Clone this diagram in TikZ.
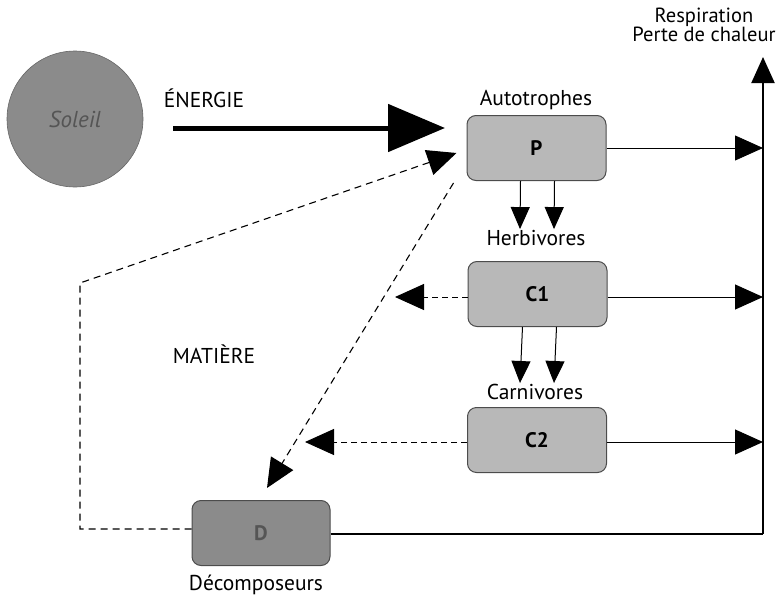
\documentclass[tikz,border=0pt]{standalone}
\usepackage{fontspec}
\setmainfont{PT Sans}
\usetikzlibrary{arrows.meta}
\definecolor{boxgray}{HTML}{B8B8B8}
\definecolor{darkgray}{HTML}{8B8B8B}
\definecolor{inkgray}{HTML}{555555}
\begin{document}
\begin{tikzpicture}[x=1pt,y=-1pt,
  every node/.style={font=\fontsize{21.5}{22}\selectfont},
  level/.style={draw=black!70,line width=1pt,rounded corners=9pt,fill=boxgray,
    minimum width=139pt,minimum height=65pt,inner sep=0pt,font=\fontsize{21}{22}\selectfont\bfseries},
  tag/.style={inner sep=1pt},
  flow/.style={line width=1pt,-{Triangle[length=28pt,width=25pt]}},
  feed/.style={line width=1pt,-{Triangle[length=22pt,width=19pt]}},
  back/.style={line width=1pt,dash pattern=on 6pt off 4pt,-{Triangle[length=29pt,width=26pt]}},
  recycle/.style={line width=1.1pt,dash pattern=on 7pt off 5pt,-{Triangle[length=29pt,width=26pt]}}]
\useasboundingbox (0,0) rectangle (782,597);

% source of energy
\node[circle,draw=black!60,line width=0.6pt,fill=darkgray,minimum size=136pt,inner sep=0pt,
  font=\fontsize{23}{24}\selectfont\itshape,text=inkgray] (sun) at (75,119) {Soleil};
\node[tag] (energy) at (204,98) {ÉNERGIE};
\node[tag] (matter) at (214,354) {MATIÈRE};

% trophic levels
\node[level] (P)  at (536.5,148) {P};
\node[level] (C1) at (537.5,294) {C1};
\node[level] (C2) at (537,440) {C2};
\node[level,fill=darkgray,text=inkgray,minimum width=138pt] (D) at (261,533) {D};

\node[tag] (autot) at (536,100) {Autotrophes};
\node[tag] (herb)  at (536,238) {Herbivores};
\node[tag] (carn)  at (535,392) {Carnivores};
\node[tag] (decomp) at (256,585) {Décomposeurs};
\node[tag,align=center,font=\fontsize{20.5}{19}\selectfont] (resp) at (704,25) {Respiration\\Perte de chaleur};

% energy input
\coordinate (e0) at (173,128);
\coordinate (e1) at (445,128);
\draw[line width=5pt,-{Triangle[length=57pt,width=47pt]}] (e0) -- (e1);

% respiration collector
\coordinate (rbot) at (763,534);
\coordinate (rtop) at (763,57);
\draw[line width=1.8pt] (D.east |- rbot) -- (rbot);
\draw[line width=2pt,-{Triangle[length=26pt,width=23pt]}] (rbot) -- (rtop);
\draw[flow,line width=0.8pt] (P.east) -- (P.east -| rtop);
\draw[flow] ([yshift=-3pt]C1.east) -- ([yshift=-3pt]C1.east -| rtop);
\draw[flow] ([yshift=-2pt]C2.east) -- ([yshift=-2pt]C2.east -| rtop);

% feeding links
\draw[feed] ([xshift=-16pt]P.south) -- ([xshift=-16pt]herb.north);
\draw[feed] ([xshift=18pt]P.south) -- ([xshift=18pt]herb.north);
\draw[feed] ([xshift=-15pt]C1.south) -- ([xshift=-15pt]carn.north);
\draw[feed] ([xshift=19pt]C1.south) -- ([xshift=19pt]carn.north);

% dead matter towards decomposers
\coordinate (t1) at (395,297);
\coordinate (t2) at (305,442);
\draw[back] ([yshift=-3pt]C1.west) -- (t1);
\draw[back] ([yshift=-2pt]C2.west) -- (t2);
\draw[recycle] ([xshift=-13pt,yshift=-2pt]P.south west) -- ([xshift=6pt,yshift=12pt]D.north);

% mineral recycling back to producers
\coordinate (k1) at (80,529);
\coordinate (k2) at (80,283);
\draw[recycle] ([yshift=4pt]D.west) -- (k1) -- (k2) -- ([xshift=-10pt,yshift=-5pt]P.west);
\end{tikzpicture}
\end{document}
